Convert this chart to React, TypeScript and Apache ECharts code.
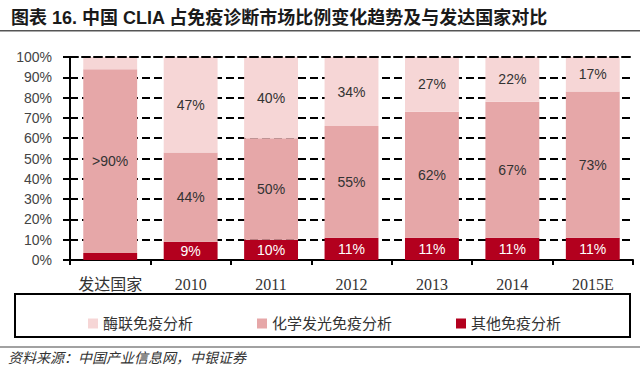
import React, { useEffect, useRef } from "react";
import * as echarts from "echarts";

const categories = ["发达国家", "2010", "2011", "2012", "2013", "2014", "2015E"];
const otherValues = [3.5, 9, 10, 11, 11, 11, 11];
const clValues = [90.5, 44, 50, 55, 62, 67, 72];
const elisaValues = [6, 47, 40, 34, 27, 22, 17];
const otherLabels = ["", "9%", "10%", "11%", "11%", "11%", "11%"];
const clLabels = [">90%", "44%", "50%", "55%", "62%", "67%", "73%"];
const elisaLabels = ["", "47%", "40%", "34%", "27%", "22%", "17%"];
const seriesNames = ["酶联免疫分析", "化学发光免疫分析", "其他免疫分析"];
const titleText = "图表 16. 中国 CLIA 占免疫诊断市场比例变化趋势及与发达国家对比";
const sourceText = "资料来源：中国产业信息网，中银证券";

const SANS = "Liberation Sans, Arial, Noto Sans CJK SC, sans-serif";
const SERIF = "Liberation Serif, Times New Roman, Noto Sans CJK SC, serif";
const GRID = { left: 70, right: 7, top: 57, bottom: 119 };

export default function App() {
  const axisRef = useRef<HTMLDivElement>(null);
  const barRef = useRef<HTMLDivElement>(null);
  useEffect(() => {
    if (!axisRef.current || !barRef.current) return;
    const axisChart = echarts.init(axisRef.current, undefined, { renderer: "svg" });
    const barChart = echarts.init(barRef.current, undefined, { renderer: "svg" });

    axisChart.setOption({
      animation: false,
      backgroundColor: "#ffffff",
      grid: GRID,
      xAxis: {
        type: "category",
        data: categories,
        axisLine: { show: true, lineStyle: { color: "#000", width: 2 } },
        axisTick: { show: true, length: 5, lineStyle: { color: "#000", width: 2 } },
        axisLabel: { interval: 0, fontSize: 16, color: "#333", fontFamily: SERIF, margin: 16 },
      },
      yAxis: {
        type: "value",
        min: 0,
        max: 100,
        interval: 10,
        axisLine: { show: true, lineStyle: { color: "#000", width: 2 } },
        axisTick: { show: true, length: 7, lineStyle: { color: "#000", width: 2 } },
        axisLabel: { formatter: "{value}%", fontSize: 14, color: "#444", fontFamily: SANS, margin: 18 },
        splitLine: { show: true, lineStyle: { color: "#000", width: 2, type: "dashed" } },
      },
      series: [],
    });

    const mkData = (vals: number[], labels: string[]) =>
      vals.map((v, i) => (labels[i] ? v : { value: v, label: { show: false } }));
    const lbl = (arr: string[], color: string) => ({
      show: true,
      position: "inside",
      color,
      fontSize: 14,
      fontFamily: SANS,
      formatter: (p: any) => arr[p.dataIndex] || " ",
    });

    barChart.setOption({
      animation: false,
      backgroundColor: "transparent",
      title: {
        text: titleText,
        left: 6,
        top: 4,
        textStyle: { fontSize: 18, fontWeight: "bold", color: "#1a1a1a", fontFamily: SANS },
      },
      grid: GRID,
      legend: {
        data: seriesNames,
        left: 83,
        top: 311,
        itemWidth: 10,
        itemHeight: 10,
        itemGap: 64,
        icon: "rect",
        textStyle: { fontSize: 15, color: "#333", fontFamily: SERIF },
      },
      xAxis: [
        {
          type: "category",
          data: categories,
          axisLine: { show: false },
          axisTick: { show: false },
          axisLabel: { show: false },
        },
        {
          type: "category",
          data: categories,
          position: "top",
          z: 5,
          axisLine: { show: true, lineStyle: { color: "#000", width: 2, type: "dashed" } },
          axisTick: { show: false },
          axisLabel: { show: false },
        },
      ],
      yAxis: {
        type: "value",
        min: 0,
        max: 100,
        interval: 10,
        axisLine: { show: false },
        axisTick: { show: false },
        axisLabel: { show: false },
        splitLine: { show: false },
      },
      series: [
        {
          name: seriesNames[2],
          type: "bar",
          stack: "s",
          xAxisIndex: 0,
          barWidth: "67%",
          data: mkData(otherValues, otherLabels),
          itemStyle: { color: "#b3001e" },
          label: lbl(otherLabels, "#ffffff"),
        },
        {
          name: seriesNames[1],
          type: "bar",
          stack: "s",
          xAxisIndex: 0,
          barWidth: "67%",
          data: mkData(clValues, clLabels),
          itemStyle: { color: "#e6a7a8" },
          label: lbl(clLabels, "#333333"),
        },
        {
          name: seriesNames[0],
          type: "bar",
          stack: "s",
          xAxisIndex: 0,
          barWidth: "67%",
          data: mkData(elisaValues, elisaLabels),
          itemStyle: { color: "#f6d6d6" },
          label: lbl(elisaLabels, "#333333"),
        },
      ],
      graphic: [
        { type: "rect", shape: { x: 0, y: 30, width: 640, height: 1.5 }, style: { fill: "#555" } },
        { type: "rect", shape: { x: 15, y: 294, width: 615, height: 43 }, style: { fill: "none", stroke: "#000", lineWidth: 2 } },
        { type: "rect", shape: { x: 0, y: 346.5, width: 640, height: 1 }, style: { fill: "#444" } },
        {
          type: "text",
          left: 8,
          top: 351,
          style: { text: sourceText, fontSize: 14, fontStyle: "italic", fill: "#333", fontFamily: SERIF },
        },
      ],
    });
    return () => {
      axisChart.dispose();
      barChart.dispose();
    };
  }, []);
  const box = { position: "fixed" as const, left: 0, top: 0, width: 640, height: 379 };
  return (
    <div style={box}>
      <div ref={axisRef} style={{ position: "absolute", left: 0, top: 0, width: 640, height: 379 }} />
      <div ref={barRef} style={{ position: "absolute", left: 0, top: 0, width: 640, height: 379 }} />
    </div>
  );
}
